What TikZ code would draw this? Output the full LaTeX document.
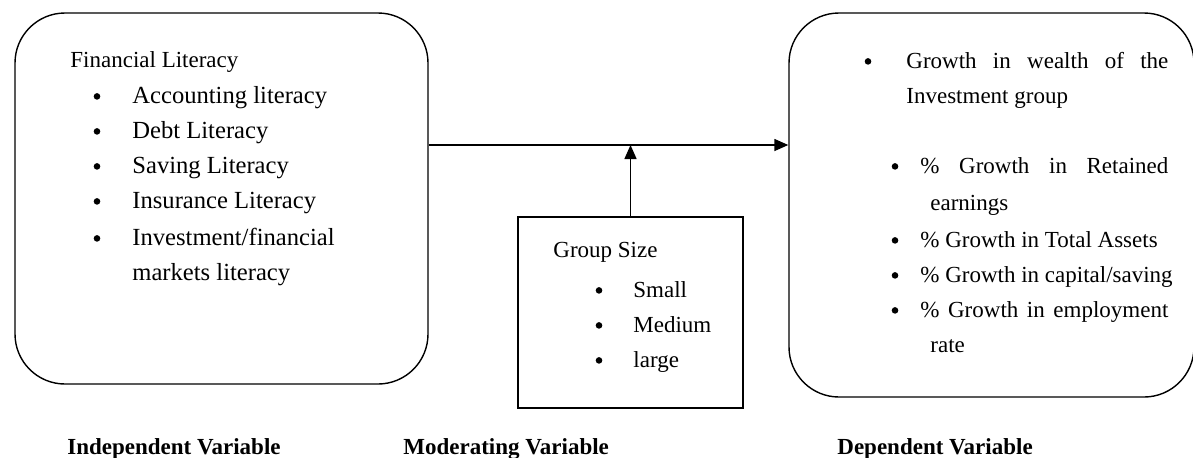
\documentclass[tikz,border=0pt]{standalone}
\usepackage{fontspec}
\setmainfont{Liberation Serif}
\usetikzlibrary{arrows.meta}
\begin{document}
\begin{tikzpicture}[x=0.5pt,y=-0.5pt,
  panel/.style={draw, line width=0.7pt, rounded corners=25pt, inner sep=0pt},
  plainbox/.style={draw, line width=0.7pt, inner sep=0pt},
  txt/.style={anchor=base west, inner sep=0pt, font=\fontsize{11.5pt}{14pt}\selectfont},
  bigtxt/.style={txt, font=\fontsize{12.3pt}{15pt}\selectfont},
  dot/.style={circle, fill, inner sep=0pt, minimum size=3.3pt, yshift=3.3pt},
  caption/.style={anchor=base west, inner sep=0pt, font=\fontsize{11.5pt}{14pt}\selectfont\bfseries},
  link/.style={line width=0.7pt, -{Triangle[length=7pt,width=6pt]}}]
\useasboundingbox (0,0) rectangle (1193,457);

% the three boxes
\node[panel, minimum width=206.5pt, minimum height=185.5pt] (iv) at (221.5,198.5) {};
\node[panel, minimum width=202.5pt, minimum height=192pt] (dv) at (991.5,205) {};
\node[plainbox, minimum width=112.5pt, minimum height=95.5pt] (mv) at (630.5,312.5) {};

% independent variable
\node[txt] (ivt) at (70,67) {Financial Literacy};
\foreach \y/\t [count=\i] in {103/{Accounting literacy}, 138/{Debt Literacy}, 173/{Saving Literacy}, 208/{Insurance Literacy}, 245/{Investment/financial}}{
  \node[dot] (ivb\i) at (97,\y) {};
  \node[bigtxt] (ivi\i) at (132,\y) {\t};
}
\node[bigtxt] (ivi6) at (132,280) {markets literacy};

% moderating variable
\node[txt] (mvt) at (553,257) {Group Size};
\foreach \y/\t [count=\i] in {297/Small, 332/Medium, 367/large}{
  \node[dot] (mvb\i) at (599,\y) {};
  \node[txt] (mvi\i) at (633,\y) {\t};
}

% dependent variable
\node[dot] (dvb0) at (868,68) {};
\node[txt] (dvt1) at (906,68) {\makebox[131pt][s]{Growth in wealth of the}};
\node[txt] (dvt2) at (906,103) {Investment group};
\node[dot] (dvb1) at (895,173) {};
\node[txt] (dvi1) at (920,173) {\makebox[124pt][s]{\% Growth in Retained}};
\node[txt] (dvi1b) at (930,210) {earnings};
\node[dot] (dvb2) at (895,247) {};
\node[txt] (dvi2) at (920,247) {\% Growth in Total Assets};
\node[dot] (dvb3) at (895,282) {};
\node[txt] (dvi3) at (920,282) {\% Growth in capital/saving};
\node[dot] (dvb4) at (895,317) {};
\node[txt] (dvi4) at (920,317) {\makebox[124pt][s]{\% Growth in employment}};
\node[txt] (dvi4b) at (930,352) {rate};

% connectors
\coordinate (hl) at (0,145);
\draw[link] (iv.east |- hl) -- (dv.west |- hl);
\draw[link] (mv.north) -- (mv.north |- hl);

% captions
\node[caption] (c1) at (67,454) {Independent Variable};
\node[caption] (c2) at (403,454) {Moderating Variable};
\node[caption] (c3) at (837,454) {Dependent Variable};
\end{tikzpicture}
\end{document}
